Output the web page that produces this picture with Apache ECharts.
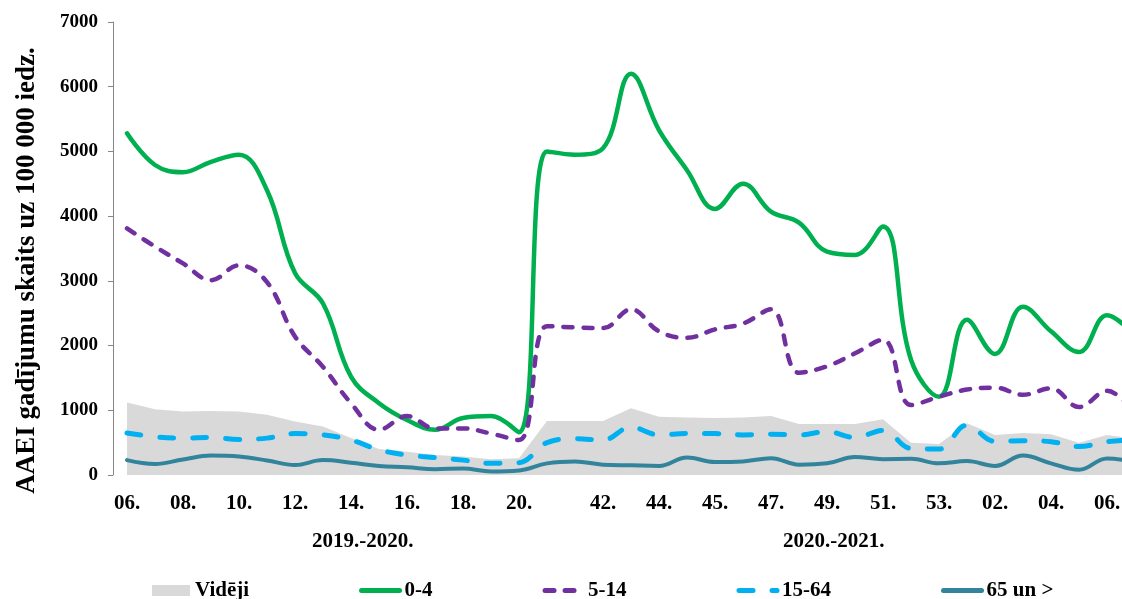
<!DOCTYPE html>
<html>
<head>
<meta charset="utf-8">
<title>AAEI</title>
<script src="https://cdn.jsdelivr.net/npm/echarts@6.0.0/dist/echarts.min.js"></script>
<style>
	html, body { margin: 0; padding: 0; background: #fff; }
	#report { width: 1122px; height: 599px; }
</style>
</head>
<body>
<div id="report"></div>
<script>
var weekLabels = ['06.', '', '08.', '', '10.', '', '12.', '', '14.', '', '16.', '', '18.', '', '20.', '', '',
	'42.', '', '44.', '', '45.', '', '47.', '', '49.', '', '51.', '', '53.', '', '02.', '', '04.', '', '06.', ''];
var seasonLabels = ['2019.-2020.', '2020.-2021.'];
var yTicks = [0, 1000, 2000, 3000, 4000, 5000, 6000, 7000];

var videji = [1120, 1015, 980, 990, 980, 930, 825, 750, 570, 400, 360, 310, 285, 245, 260, 835, 835, 835, 1030, 900,
	890, 880, 890, 910, 790, 790, 790, 860, 500, 480, 800, 620, 650, 630, 500, 620, 560];
var age0_4 = [5280, 4790, 4680, 4840, 4950, 4400, 3120, 2650, 1520, 1110, 850, 700, 880, 910, 660, 5000, 4950, 5050, 6200, 5330,
	4710, 4110, 4500, 4070, 3900, 3450, 3400, 3840, 1780, 1210, 2400, 1870, 2600, 2220, 1900, 2470, 2150];
var age5_14 = [3810, 3530, 3270, 3010, 3240, 2980, 2140, 1670, 1110, 700, 910, 720, 720, 640, 540, 2300, 2280, 2270, 2560, 2220,
	2120, 2250, 2340, 2560, 1580, 1680, 1880, 2090, 1080, 1210, 1320, 1350, 1240, 1340, 1050, 1300, 950];
var age15_64 = [650, 590, 570, 580, 550, 570, 640, 620, 540, 390, 310, 270, 230, 180, 190, 500, 560, 540, 740, 620,
	640, 640, 620, 630, 620, 670, 580, 690, 410, 400, 770, 520, 530, 515, 440, 515, 540];
var age65 = [230, 170, 240, 300, 285, 225, 155, 230, 190, 140, 120, 90, 100, 55, 70, 180, 210, 160, 150, 140,
	270, 200, 210, 260, 160, 180, 280, 245, 250, 180, 215, 140, 300, 180, 80, 255, 200];

var font = "'Times New Roman', 'Liberation Serif', serif";

var myChart = echarts.init(document.getElementById('report'));

function lineSeries(name, data, color, width, dash) {
	return {
		name: name,
		type: 'line',
		data: data,
		smooth: 0.4,
		symbol: 'none',
		showSymbol: false,
		lineStyle: { color: color, width: width, type: dash || 'solid', cap: 'round' },
		itemStyle: { color: color }
	};
}

var option = {
	animation: false,
	grid: { left: 113, right: -27, top: 22, bottom: 124, outerBoundsMode: 'none', containLabel: false },
	legend: {
		left: 147,
		top: 575,
		itemGap: 110,
		itemWidth: 38,
		itemHeight: 11,
		itemStyle: { opacity: 0 },
		lineStyle: { width: 5 },
		textStyle: { fontFamily: font, fontWeight: 'bold', fontSize: 21, color: '#000' },
		data: [
			{ name: 'Vidēji', icon: 'rect', itemStyle: { color: '#d9d9d9', opacity: 1 } },
			'0-4', '5-14', '15-64', '65 un >'
		]
	},
	xAxis: {
		type: 'category',
		data: weekLabels,
		boundaryGap: true,
		axisLine: { show: false },
		axisTick: { show: false },
		axisLabel: {
			interval: 0,
			margin: 18,
			fontFamily: font,
			fontWeight: 'bold',
			fontSize: 21,
			color: '#000'
		}
	},
	yAxis: {
		type: 'value',
		min: yTicks[0],
		max: yTicks[yTicks.length - 1],
		interval: 1000,
		name: 'AAEI gadījumu skaits uz 100 000 iedz.',
		nameLocation: 'middle',
		nameGap: 72,
		nameTextStyle: { fontFamily: font, fontWeight: 'bold', fontSize: 27, color: '#000', padding: [0, 44, 0, 0] },
		splitLine: { show: false },
		axisLine: { show: true, lineStyle: { color: '#868686', width: 1 } },
		axisTick: { show: true, length: 5, lineStyle: { color: '#868686' } },
		axisLabel: {
			margin: 15,
			fontFamily: font,
			fontWeight: 'bold',
			fontSize: 19,
			color: '#000',
			formatter: function(v) { return String(v); }
		}
	},
	graphic: [
		{ type: 'text', left: 312, top: 531, style: { text: seasonLabels[0], font: 'bold 21px ' + font, fill: '#000' } },
		{ type: 'text', left: 783, top: 531, style: { text: seasonLabels[1], font: 'bold 21px ' + font, fill: '#000' } }
	],
	series: [
		{
			name: 'Vidēji',
			type: 'line',
			data: videji,
			symbol: 'none',
			showSymbol: false,
			lineStyle: { width: 0 },
			itemStyle: { color: '#d9d9d9' },
			areaStyle: { color: '#d9d9d9', opacity: 1 }
		},
		lineSeries('0-4', age0_4, '#00b050', 4.5),
		lineSeries('5-14', age5_14, '#7030a0', 4.5, [9, 11]),
		lineSeries('15-64', age15_64, '#00b0f0', 5, [14, 19]),
		lineSeries('65 un >', age65, '#31849b', 4)
	]
};
myChart.setOption(option);
</script>
</body>
</html>
